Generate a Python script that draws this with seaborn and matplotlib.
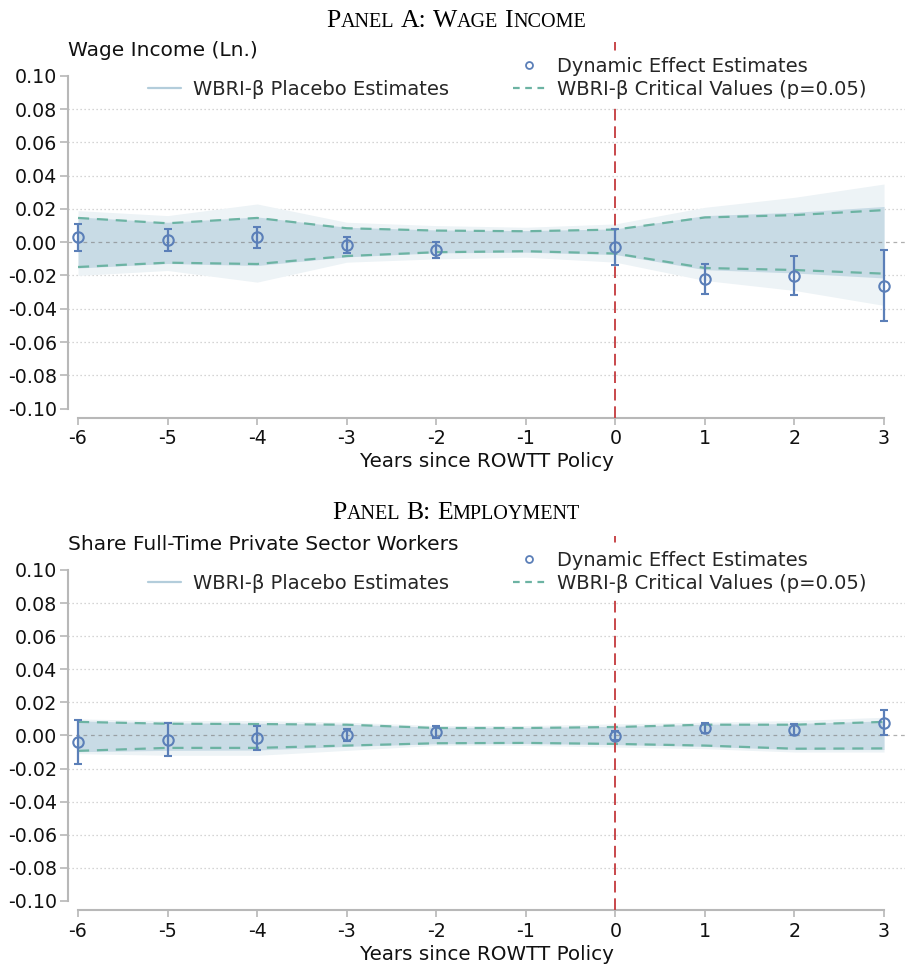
import matplotlib
matplotlib.use("Agg")
import matplotlib.pyplot as plt
import seaborn as sns
import pandas as pd
from matplotlib.lines import Line2D

# ---------------- data ----------------
years = [-6, -5, -4, -3, -2, -1, 0, 1, 2, 3]
est_years = [-6, -5, -4, -3, -2, 0, 1, 2, 3]

# Panel A: Wage income (Ln.)
est_a = [0.0030, 0.0013, 0.0030, -0.0017, -0.0045, -0.0028, -0.0222, -0.0201, -0.0262]
ci_a = [0.0080, 0.0066, 0.0062, 0.0050, 0.0048, 0.0106, 0.0090, 0.0118, 0.0213]
crit_upper_a = [0.0146, 0.0114, 0.0146, 0.0084, 0.0070, 0.0066, 0.0076, 0.0149, 0.0163, 0.0193]
crit_lower_a = [-0.0149, -0.0123, -0.0131, -0.0083, -0.0060, -0.0054, -0.0068, -0.0155, -0.0167, -0.0189]
placebo_in_upper_a = [0.0152, 0.0120, 0.0152, 0.0090, 0.0074, 0.0070, 0.0080, 0.0160, 0.0180, 0.0215]
placebo_in_lower_a = [-0.0155, -0.0128, -0.0140, -0.0088, -0.0064, -0.0060, -0.0074, -0.0165, -0.0185, -0.0215]
placebo_out_upper_a = [0.0190, 0.0160, 0.0230, 0.0120, 0.0100, 0.0090, 0.0110, 0.0210, 0.0270, 0.0350]
placebo_out_lower_a = [-0.0200, -0.0170, -0.0240, -0.0120, -0.0100, -0.0090, -0.0120, -0.0230, -0.0290, -0.0380]

# Panel B: Share full-time private sector workers
est_b = [-0.0037, -0.0026, -0.0016, 0.0002, 0.0022, -0.0002, 0.0045, 0.0035, 0.0078]
ci_b = [0.0133, 0.0100, 0.0072, 0.0037, 0.0035, 0.0026, 0.0032, 0.0034, 0.0077]
crit_upper_b = [0.0082, 0.0071, 0.0069, 0.0065, 0.0045, 0.0045, 0.0051, 0.0065, 0.0065, 0.0082]
crit_lower_b = [-0.0093, -0.0075, -0.0075, -0.0061, -0.0047, -0.0045, -0.0051, -0.0061, -0.0080, -0.0078]
placebo_in_upper_b = [0.0088, 0.0076, 0.0074, 0.0068, 0.0050, 0.0049, 0.0055, 0.0068, 0.0072, 0.0088]
placebo_in_lower_b = [-0.0098, -0.0090, -0.0088, -0.0066, -0.0050, -0.0049, -0.0055, -0.0066, -0.0085, -0.0085]
placebo_out_upper_b = [0.0100, 0.0090, 0.0090, 0.0080, 0.0060, 0.0060, 0.0070, 0.0080, 0.0090, 0.0110]
placebo_out_lower_b = [-0.0110, -0.0120, -0.0120, -0.0090, -0.0060, -0.0060, -0.0070, -0.0080, -0.0100, -0.0100]

ytick_vals = [0.10, 0.08, 0.06, 0.04, 0.02, 0.00, -0.02, -0.04, -0.06, -0.08, -0.10]
ytick_labels = ["0.10", "0.08", "0.06", "0.04", "0.02", "0.00", "-0.02", "-0.04", "-0.06", "-0.08", "-0.10"]
xtick_vals = [-6, -5, -4, -3, -2, -1, 0, 1, 2, 3]
xtick_labels = ["-6", "-5", "-4", "-3", "-2", "-1", "0", "1", "2", "3"]

panel_titles = ["Panel A: Wage Income", "Panel B: Employment"]
y_titles = ["Wage Income (Ln.)", "Share Full-Time Private Sector Workers"]
x_title = "Years since ROWTT Policy"
legend_labels = ["", "WBRI-\u03b2 Placebo Estimates", "Dynamic Effect Estimates",
                 "WBRI-\u03b2 Critical Values (p=0.05)"]

# ---------------- style ----------------
sns.set_theme(style="white")
plt.rcParams["font.family"] = ["DejaVu Sans"]

BLUE = "#5b7fb8"
TEAL = "#6cb3a3"
RED = "#c8484b"
BAND_IN = "#c6dae5"
BAND_OUT = "#edf3f6"
SPINE = "#b8b8b8"
FS_TICK = 13.7
FS_LEG = 14.0
FS_XLAB = 14.3
FS_YT = 14.5

W, H = 909, 969
fig = plt.figure(figsize=(W / 100, H / 100), dpi=100)

YLIM = (-0.1057, 0.1204)
XLIM = (-6.112, 3.234)


def smallcaps(fig, text, xc, yc, big=18.5, small=14.5):
    renderer = fig.canvas.get_renderer()
    space = 0.25 * big * 100 / 72
    runs = []
    for ch in text:
        if ch == " ":
            runs.append(("SPACE", None))
            continue
        size = small if ch.islower() else big
        c = ch.upper()
        if runs and runs[-1][0] != "SPACE" and runs[-1][1] == size:
            runs[-1] = (runs[-1][0] + c, size)
        else:
            runs.append((c, size))
    objs = []
    x = 0.0
    for s, size in runs:
        if s == "SPACE":
            x += space
            continue
        t = fig.text(0, yc, s, fontsize=size, family=["Liberation Serif", "DejaVu Serif"],
                     va="baseline", ha="left", color="black")
        w = t.get_window_extent(renderer).width
        objs.append((t, x))
        x += w
    total = x
    x0 = xc * W - total / 2
    for t, off in objs:
        t.set_x((x0 + off) / W)


def draw_panel(rect, est, ci, cu, cl, piu, pil, pou, pol, title, ytitle):
    ax = fig.add_axes(rect)
    df = pd.DataFrame({"year": years, "cu": cu, "cl": cl})
    ax.fill_between(years, pol, pou, color=BAND_OUT, lw=0, zorder=1)
    ax.fill_between(years, pil, piu, color=BAND_IN, lw=0, zorder=2, alpha=0.95)
    for v in ytick_vals:
        if abs(v) > 1e-9 and abs(v) < 0.099:
            ax.axhline(v, color="#c8c8c8", lw=0.9, ls=(0, (1, 2.2)), zorder=0.5)
    ax.axhline(0, color="#7a7a7a", lw=0.9, ls=(0, (3, 3)), zorder=2.5, alpha=0.6)
    sns.lineplot(data=df, x="year", y="cu", ax=ax, color=TEAL, lw=1.6,
                 linestyle=(0, (5, 3.5)), zorder=3, legend=False)
    sns.lineplot(data=df, x="year", y="cl", ax=ax, color=TEAL, lw=1.6,
                 linestyle=(0, (5, 3.5)), zorder=3, legend=False)
    ax.axvline(0, color=RED, lw=1.4, ls=(0, (6, 3)), zorder=3.5)
    ax.errorbar(est_years, est, yerr=ci, fmt="o", ms=7.5, mfc="none", mec=BLUE, mew=1.5,
                ecolor=BLUE, elinewidth=1.6, capsize=3, capthick=1.6, zorder=5)
    ax.set_xlim(*XLIM)
    ax.set_ylim(*YLIM)
    for s in ["top", "right"]:
        ax.spines[s].set_visible(False)
    for s in ["left", "bottom"]:
        ax.spines[s].set_color(SPINE)
        ax.spines[s].set_linewidth(1.5)
    ax.spines["left"].set_bounds(-0.10, 0.10)
    ax.spines["bottom"].set_bounds(-6, 3)
    ax.set_yticks(ytick_vals)
    ax.set_yticklabels(ytick_labels)
    ax.set_xticks(xtick_vals)
    ax.set_xticklabels(xtick_labels)
    ax.tick_params(axis="y", direction="out", length=6, width=1.2, color=SPINE,
                   labelsize=FS_TICK, pad=2, left=True, labelcolor="#111111")
    ax.tick_params(axis="x", direction="out", length=5, width=1.2, color=SPINE,
                   labelsize=FS_TICK, pad=3, bottom=True, labelcolor="#111111")
    ax.set_xlabel(x_title, fontsize=FS_XLAB, labelpad=3, color="#111111")
    ax.set_ylabel("")
    ax.set_facecolor("white")
    ax.grid(False)

    # legend
    handles = [
        Line2D([], [], ls="none", marker=None),
        Line2D([], [], color="#b3cddb", lw=1.6),
        Line2D([], [], ls="none", marker="o", ms=5, mfc="none", mec=BLUE, mew=1.3),
        Line2D([], [], color=TEAL, lw=1.6, ls=(0, (3, 2.5))),
    ]
    top_px = (1 - (rect[1] + rect[3])) * H  # axes top in px from figure top
    ax.legend(handles, legend_labels, ncol=2, loc="upper left",
              bbox_to_anchor=(142 / W, 1 - (top_px + 9) / H), bbox_transform=fig.transFigure,
              frameon=True, facecolor="white", edgecolor="none", framealpha=1.0,
              fontsize=FS_LEG, handlelength=1.7, handletextpad=0.6, columnspacing=3.3,
              labelspacing=0.2, borderpad=0.3, borderaxespad=0)
    fig.text(68 / W, 1 - (top_px + 8) / H, ytitle, fontsize=FS_YT, va="center", ha="left",
             color="#111111")
    return ax


rect_a = [68 / W, 1 - 418 / H, (905 - 68) / W, 376 / H]
rect_b = [68 / W, 1 - 910.4 / H, (905 - 68) / W, 374.2 / H]

draw_panel(rect_a, est_a, ci_a, crit_upper_a, crit_lower_a, placebo_in_upper_a,
           placebo_in_lower_a, placebo_out_upper_a, placebo_out_lower_a,
           panel_titles[0], y_titles[0])
draw_panel(rect_b, est_b, ci_b, crit_upper_b, crit_lower_b, placebo_in_upper_b,
           placebo_in_lower_b, placebo_out_upper_b, placebo_out_lower_b,
           panel_titles[1], y_titles[1])

smallcaps(fig, panel_titles[0], 456 / W, 1 - 27 / H)
smallcaps(fig, panel_titles[1], 456 / W, 1 - 519 / H)

fig.savefig("out.png", dpi=100, facecolor="white")
